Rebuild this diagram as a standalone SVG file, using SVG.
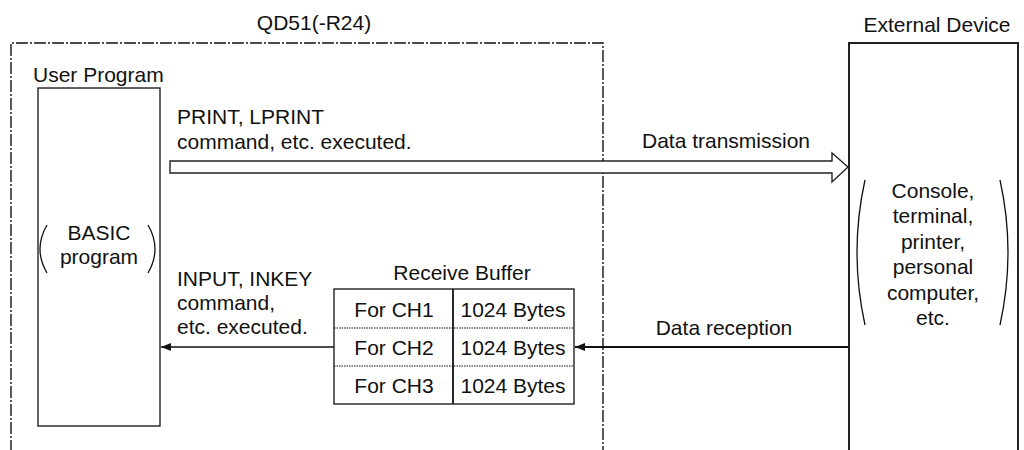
<svg xmlns="http://www.w3.org/2000/svg" width="1024" height="450" viewBox="0 0 1024 450">
  <style>
    text { font-family: "Liberation Sans", Arial, sans-serif; font-size: 21px; fill: #111; }
    .mid { text-anchor: middle; }
    .box { fill: #fff; stroke: #222; stroke-width: 1.4; }
    .dashdot { fill: none; stroke: #111; stroke-width: 1.4; stroke-dasharray: 12 2 2 2; }
    .dotted { fill: none; stroke: #111; stroke-width: 1.2; stroke-dasharray: 1.5 1; }
    .paren { fill: none; stroke: #111; stroke-width: 1.3; }
    .line { fill: none; stroke: #111; stroke-width: 1.4; }
    .thick { fill: none; stroke: #111; stroke-width: 2; }
  </style>
  <defs>
    <marker id="head" viewBox="0 0 10 8" refX="10" refY="4" markerWidth="10" markerHeight="8" markerUnits="userSpaceOnUse" orient="auto">
      <path d="M0,0 L10,4 L0,8 Z" fill="#111"/>
    </marker>
  </defs>
  <rect width="1024" height="450" fill="#fff"/>

  <g id="qd51">
    <text class="mid" x="314" y="30">QD51(-R24)</text>
    <path class="dashdot" d="M11,452 L11,43 L603,43 L603,452"/>
  </g>

  <g id="user-program">
    <text x="33" y="82">User Program</text>
    <rect class="box" x="38" y="88" width="122" height="338"/>
    <text class="mid" x="99" y="240">BASIC</text>
    <text class="mid" x="99" y="264">program</text>
    <path class="paren" d="M47,225 Q33,249 47,273"/>
    <path class="paren" d="M148,225 Q162,249 148,273"/>
  </g>

  <g id="external-device">
    <text class="mid" x="937" y="32">External Device</text>
    <path class="box" d="M849,452 L849,43 L1018,43 L1018,452" style="stroke-width:2"/>
    <text class="mid" x="933" y="198">Console,</text>
    <text class="mid" x="933" y="223">terminal,</text>
    <text class="mid" x="933" y="249">printer,</text>
    <text class="mid" x="933" y="274">personal</text>
    <text class="mid" x="933" y="300">computer,</text>
    <text class="mid" x="933" y="325">etc.</text>
    <path class="paren" d="M865,180 Q849,252 865,325"/>
    <path class="paren" d="M1000,180 Q1016,252 1000,325"/>
  </g>

  <g id="receive-buffer">
    <text class="mid" x="462" y="280">Receive Buffer</text>
    <rect class="box" x="334" y="289" width="240" height="115"/>
    <line class="dotted" x1="334" y1="328" x2="574" y2="328"/>
    <line class="dotted" x1="334" y1="366" x2="574" y2="366"/>
    <line class="line" x1="453" y1="289" x2="453" y2="404" style="stroke-width:1.8"/>
    <text class="mid" x="394" y="317">For CH1</text>
    <text class="mid" x="394" y="355">For CH2</text>
    <text class="mid" x="394" y="393">For CH3</text>
    <text class="mid" x="513" y="317">1024 Bytes</text>
    <text class="mid" x="513" y="355">1024 Bytes</text>
    <text class="mid" x="513" y="393">1024 Bytes</text>
  </g>

  <g id="connectors">
    <polygon class="box" points="170,161 832,161 832,153 848,167 832,182 832,173 170,173"/>
    <line class="line" x1="334" y1="347" x2="161" y2="347" marker-end="url(#head)"/>
    <line class="thick" x1="849" y1="347" x2="575" y2="347" marker-end="url(#head)"/>
  </g>

  <g id="labels">
    <text x="177" y="124">PRINT, LPRINT</text>
    <text x="177" y="149">command, etc. executed.</text>
    <text class="mid" x="726" y="148">Data transmission</text>
    <text x="177" y="286">INPUT, INKEY</text>
    <text x="177" y="310">command,</text>
    <text x="177" y="334">etc. executed.</text>
    <text class="mid" x="724" y="335">Data reception</text>
  </g>
</svg>
